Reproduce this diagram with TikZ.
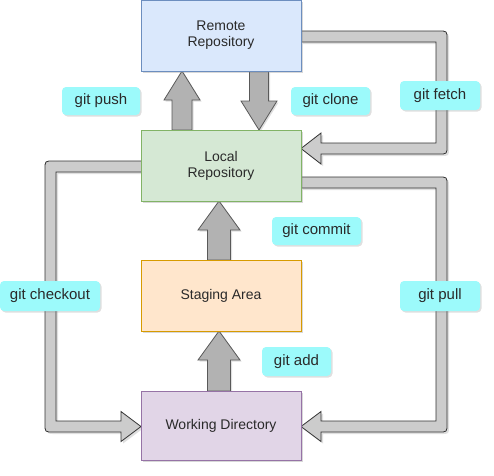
\documentclass[tikz,border=0pt]{standalone}
\usepackage{fontspec}
\setmainfont{Liberation Sans}
\usetikzlibrary{shadows}
\definecolor{remfill}{HTML}{DAE8FC}\definecolor{remdraw}{HTML}{6C8EBF}
\definecolor{locfill}{HTML}{D5E8D4}\definecolor{locdraw}{HTML}{82B366}
\definecolor{stgfill}{HTML}{FFE6CC}\definecolor{stgdraw}{HTML}{D79B00}
\definecolor{wrkfill}{HTML}{E1D5E7}\definecolor{wrkdraw}{HTML}{9673A6}
\definecolor{lblfill}{HTML}{9CFAFB}
\definecolor{txtcol}{HTML}{2A2A2A}
\tikzset{
  area/.style={draw, line width=0.8pt, minimum width=160pt, minimum height=71pt,
    align=center, text=txtcol, font=\fontsize{14}{16}\selectfont,
    drop shadow={shadow xshift=2pt, shadow yshift=-2pt, opacity=0.3}},
  lbl/.style={fill=lblfill, rounded corners=4pt, text=txtcol,
    font=\fontsize{15}{18}\selectfont, inner sep=0pt,
    drop shadow={shadow xshift=1.5pt, shadow yshift=-1.5pt, opacity=0.25}},
  blockarr/.style={fill=black!30, draw=black!65, line width=0.8pt, line join=miter,
    drop shadow={shadow xshift=1.5pt, shadow yshift=-1.5pt, opacity=0.25}},
  flowarr/.style={fill=black!20, draw=black!80, line width=0.8pt, line join=miter,
    drop shadow={shadow xshift=2pt, shadow yshift=-2pt, opacity=0.25}},
}
% x, ytail, yheadbase, ytip, shaft half width, head half width
\newcommand\vblockarrow[6]{%
  \draw[blockarr] (#1-#5,#2) -- (#1-#5,#3) -- (#1-#6,#3) -- (#1,#4)
    -- (#1+#6,#3) -- (#1+#5,#3) -- (#1+#5,#2) -- cycle;}
\begin{document}
\begin{tikzpicture}[x=1pt, y=-1pt]
\useasboundingbox (0,0) rectangle (494,475);
\fill[white] (0,0) rectangle (494,475);

% flow arrows (drawn first, boxes on top)
\draw[flowarr] (301,31) -- (439,31) .. controls (447,31) .. (447,39)
  -- (447,146) .. controls (447,154) .. (439,154) -- (321,154) -- (321,164)
  -- (301,148.5) -- (321,133) -- (321,143) -- (436,143) -- (436,42) -- (301,42);
\draw[flowarr] (301,177) -- (439,177) .. controls (447,177) .. (447,185)
  -- (447,424) .. controls (447,432) .. (439,432) -- (321,432) -- (321,441.5)
  -- (301,426.5) -- (321,411.5) -- (321,421) -- (436,421) -- (436,188) -- (301,188);
\draw[flowarr] (141,161) -- (53,161) .. controls (45,161) .. (45,169)
  -- (45,424) .. controls (45,432) .. (53,432) -- (121,432) -- (121,441.5)
  -- (141,426.5) -- (121,411.5) -- (121,421) -- (56,421) -- (56,172) -- (141,172);

% block arrows
\vblockarrow{182}{130}{100}{71}{10}{18}
\vblockarrow{259}{71}{101}{130}{9.5}{18}
\vblockarrow{219}{260}{230}{201}{11.5}{21}
\vblockarrow{219}{391}{360}{331}{11.5}{21}

% boxes
\node[area, fill=remfill, draw=remdraw] (remote) at (221,35.5) {Remote\\Repository};
\node[area, fill=locfill, draw=locdraw] (local) at (221,165.5) {Local\\Repository};
\node[area, fill=stgfill, draw=stgdraw] (staging) at (221,295.5) {Staging Area};
\node[area, fill=wrkfill, draw=wrkdraw, minimum height=69pt] (working) at (221,425.5) {Working Directory};

% labels
\node[lbl, minimum width=78pt, minimum height=28pt] (lpush) at (101,101) {git push};
\node[lbl, minimum width=79pt, minimum height=28pt] (lclone) at (330.5,101) {git clone};
\node[lbl, minimum width=80pt, minimum height=29pt] (lfetch) at (440,95.5) {git fetch};
\node[lbl, minimum width=89pt, minimum height=28pt] (lcommit) at (316.5,231) {git commit};
\node[lbl, minimum width=100pt, minimum height=30pt] (lcheckout) at (50,296) {git checkout};
\node[lbl, minimum width=80pt, minimum height=30pt] (lpull) at (440,296) {git pull};
\node[lbl, minimum width=69pt, minimum height=29pt] (ladd) at (296.5,361.5) {git add};
\end{tikzpicture}
\end{document}
